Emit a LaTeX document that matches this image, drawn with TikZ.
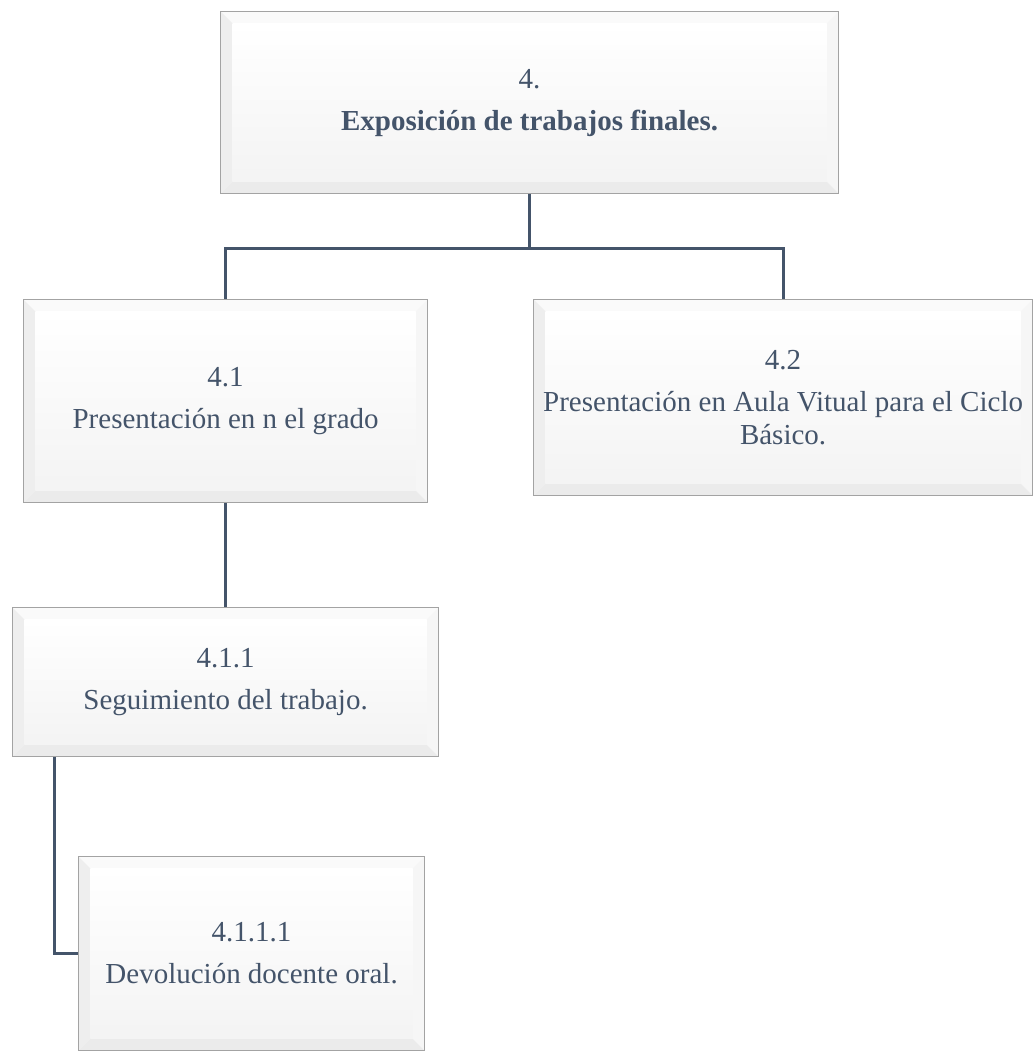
\documentclass[tikz,border=0pt]{standalone}
\usepackage{fontspec}
\setmainfont{Liberation Serif}
\usepackage{tikz}
\usetikzlibrary{positioning}
\definecolor{slate}{HTML}{44546A}
\definecolor{edgegray}{HTML}{A3A3A3}
\newcommand{\bw}{12pt}
\newcommand{\pb}{path picture bounding box}
\tikzset{
	bevel/.style={
		rectangle, draw=edgegray, line width=1.2pt, fill=white,
		anchor=north west, inner sep=0pt, align=center, text=slate,
		path picture={
			\fill[gray!4] (\pb.north west) -- (\pb.north east) -- ([xshift=-\bw,yshift=-\bw]\pb.north east) -- ([xshift=\bw,yshift=-\bw]\pb.north west) -- cycle;
			\fill[gray!13] (\pb.north west) -- ([xshift=\bw,yshift=-\bw]\pb.north west) -- ([xshift=\bw,yshift=\bw]\pb.south west) -- (\pb.south west) -- cycle;
			\fill[gray!7] (\pb.north east) -- ([xshift=-\bw,yshift=-\bw]\pb.north east) -- ([xshift=-\bw,yshift=\bw]\pb.south east) -- (\pb.south east) -- cycle;
			\fill[gray!16] (\pb.south west) -- ([xshift=\bw,yshift=\bw]\pb.south west) -- ([xshift=-\bw,yshift=\bw]\pb.south east) -- (\pb.south east) -- cycle;
			\shade[top color=white, bottom color=gray!9] ([xshift=\bw,yshift=-\bw]\pb.north west) rectangle ([xshift=-\bw,yshift=\bw]\pb.south east);
		},
	},
	link/.style={
		draw=slate, line width=3pt,
	}
}

\begin{document}
\begin{tikzpicture}[x=1pt, y=-1pt, font=\fontsize{29}{33}\selectfont]
	\useasboundingbox (0,0) rectangle (1033,1051);

	\node [bevel, minimum width=618pt, minimum height=182pt] (top) at (220,11) {4.\\[9pt]\textbf{Exposición de trabajos finales.}};
	\node [bevel, minimum width=404pt, minimum height=203pt] (pres) at (23,299) {4.1\\[9pt]Presentación en n el grado};
	\node [bevel, minimum width=499pt, minimum height=196pt] (aula) at (533,299) {4.2\\[9pt]Presentación en Aula Vitual para el Ciclo\\Básico.};
	\node [bevel, minimum width=426pt, minimum height=149pt] (segui) at (12,607) {4.1.1\\[9pt]Seguimiento del trabajo.};
	\node [bevel, minimum width=346pt, minimum height=194pt] (devol) at (78,856) {4.1.1.1\\[9pt]Devolución docente oral.};

	\path (top.south) ++(0,54) coordinate (split);
	\path [link] (top.south) -- (split) -| (pres.north);
	\path [link] (split) -| (aula.north);
	\path [link] (pres.south) -- (segui.north);
	\path [link] ([xshift=42pt]segui.south west) |- (devol.west);
\end{tikzpicture}
\end{document}
